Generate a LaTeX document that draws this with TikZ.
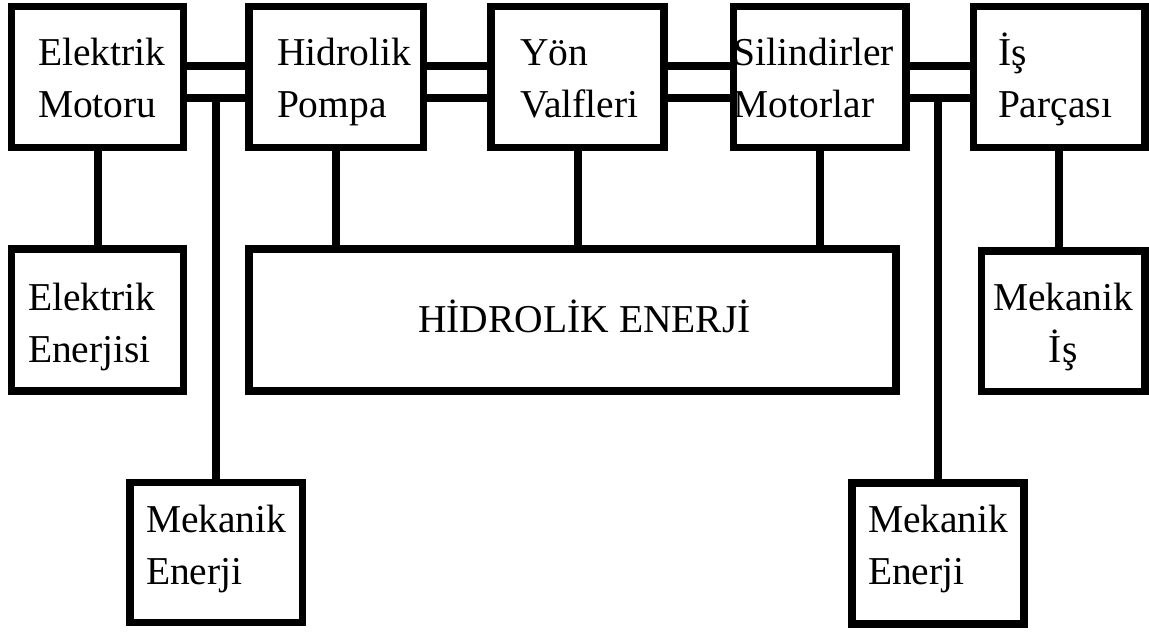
\documentclass[tikz,border=0pt]{standalone}
\usepackage{fontspec}
\setmainfont{Liberation Serif}
\hyphenpenalty=10000
\exhyphenpenalty=10000
\begin{document}
\begin{tikzpicture}[x=1pt,y=-1pt,
  box/.style={draw, line width=7.5pt, inner sep=0pt, align=left,
    font=\rmfamily\fontsize{39.5}{52}\selectfont,
    text height=30pt},
  conn/.style={line width=8pt}]
\useasboundingbox (0,0) rectangle (1149,633);
% top row
\node[box, minimum width=172pt, minimum height=141pt, text width=119pt, text depth=54pt] (motor) at (97.5,77) {Elektrik\\Motoru};
\node[box, minimum width=174.5pt, minimum height=141pt, text width=118.5pt, text depth=54pt] (pompa) at (336.25,77) {Hidrolik\\Pompa};
\node[box, minimum width=173pt, minimum height=141pt, text width=115pt, text depth=54pt] (yon) at (577.5,77) {Yön\\Valfleri};
\node[box, minimum width=172.5pt, minimum height=141pt, text width=172pt, text depth=54pt] (sil) at (819.75,77) {Silindirler\\Motorlar};
\node[box, minimum width=171.5pt, minimum height=141pt, text width=122.5pt, text depth=54pt] (is) at (1059.25,77) {İş\\Parçası};
% middle row
\node[box, minimum width=172pt, minimum height=142pt, text width=139pt, text depth=50pt] (ee) at (97.5,320) {Elektrik\\Enerjisi};
\node[box, minimum width=647pt, minimum height=142pt, align=center, text depth=6pt] (he) at (572.5,320) {\hspace*{24pt}HİDROLİK ENERJİ};
\node[box, minimum width=163.5pt, minimum height=140.5pt, align=center, text width=150pt, text depth=52pt] (mi) at (1063.25,321) {Mekanik\\İş};
% bottom row
\node[box, minimum width=172.5pt, minimum height=140pt, text width=140.5pt, text depth=71pt] (mel) at (216.25,552.5) {Mekanik\\Enerji};
\node[box, minimum width=172pt, minimum height=141pt, text width=140pt, text depth=73pt] (mer) at (938,553.5) {Mekanik\\Enerji};
% double lines
\draw[conn] ([yshift=11pt]motor.east) -- ([yshift=11pt]pompa.west);
\draw[conn] ([yshift=-21pt]motor.east) -- ([yshift=-21pt]pompa.west);
\draw[conn] ([yshift=11pt]pompa.east) -- ([yshift=11pt]yon.west);
\draw[conn] ([yshift=-21pt]pompa.east) -- ([yshift=-21pt]yon.west);
\draw[conn] ([yshift=11pt]yon.east) -- ([yshift=11pt]sil.west);
\draw[conn] ([yshift=-21pt]yon.east) -- ([yshift=-21pt]sil.west);
\draw[conn] ([yshift=11pt]sil.east) -- ([yshift=11pt]is.west);
\draw[conn] ([yshift=-21pt]sil.east) -- ([yshift=-21pt]is.west);
% verticals
\coordinate (j1) at ([yshift=-21pt]motor.east);
\coordinate (j2) at ([yshift=-21pt]sil.east);
\draw[conn] (j1 -| mel.north) -- (mel.north);
\draw[conn] (j2 -| mer.north) -- (mer.north);
\draw[conn] (motor.south) -- (ee.north);
\draw[conn] (pompa.south) -- (pompa.south |- he.north);
\draw[conn] (yon.south) -- (yon.south |- he.north);
\draw[conn] (sil.south) -- (sil.south |- he.north);
\draw[conn] (is.south) -- (is.south |- mi.north);
\end{tikzpicture}
\end{document}
